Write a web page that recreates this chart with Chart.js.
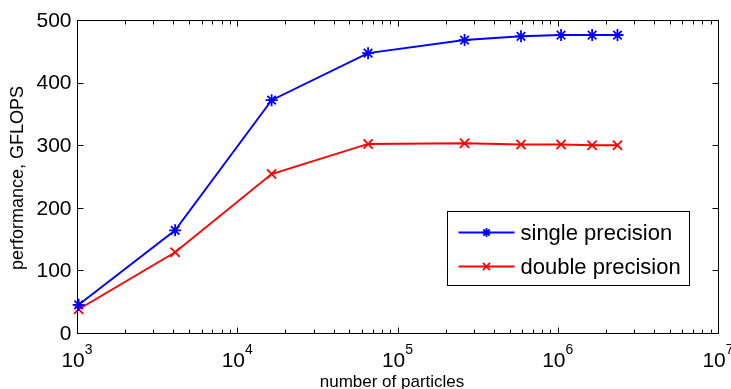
<!DOCTYPE html>
<html lang="en">

<head>
    <meta charset="UTF-8">
    <title>Performance vs number of particles</title>
    <script src="https://cdn.jsdelivr.net/npm/chart.js"></script>
    <style>
        body { margin: 0; background: #fff; }
        canvas { display: block; }
    </style>
</head>

<body>
    <canvas id="perfChart" width="731" height="389"></canvas>

    <script>
        // measured runs: particle counts and sustained GFLOPS
        const particles = [1024, 4096, 16384, 65536, 262144, 589824, 1048576, 1638400, 2359296];
        const singleGflops = [45, 164, 372, 447, 468, 474, 476, 476, 476];
        const doubleGflops = [38, 129, 254, 302, 303, 301, 301, 300, 300];

        const seriesNames = ['single precision', 'double precision'];
        const yTicks = [0, 100, 200, 300, 400, 500];
        const xExponents = [3, 4, 5, 6, 7];

        const FONT = '"Liberation Sans", Arial, sans-serif';

        // axes box, inward ticks, tick labels, titles and the legend
        const matlabAxes = {
            id: 'matlabAxes',
            afterDraw(chart) {
                const ctx = chart.ctx;
                const area = chart.chartArea;
                const xs = chart.scales.x;
                const ys = chart.scales.y;
                const L = Math.round(area.left) + 0.5, R = Math.round(area.right) + 0.5;
                const T = Math.round(area.top) + 0.5, B = Math.round(area.bottom) + 0.5;

                ctx.save();
                ctx.strokeStyle = '#000';
                ctx.lineWidth = 1;
                ctx.strokeRect(L, T, R - L, B - T);

                // y ticks on both sides
                ctx.beginPath();
                yTicks.forEach(v => {
                    const y = Math.round(ys.getPixelForValue(v)) + 0.5;
                    ctx.moveTo(L, y); ctx.lineTo(L + 6, y);
                    ctx.moveTo(R, y); ctx.lineTo(R - 6, y);
                });
                // x ticks, majors plus 2..9 minors per decade, top and bottom
                xExponents.forEach((e, i) => {
                    const base = Math.pow(10, e);
                    const x = Math.round(xs.getPixelForValue(base)) + 0.5;
                    ctx.moveTo(x, B); ctx.lineTo(x, B - 6);
                    ctx.moveTo(x, T); ctx.lineTo(x, T + 6);
                    if (i === xExponents.length - 1) return;
                    for (let m = 2; m <= 9; m++) {
                        const xm = Math.round(xs.getPixelForValue(m * base)) + 0.5;
                        ctx.moveTo(xm, B); ctx.lineTo(xm, B - 4);
                        ctx.moveTo(xm, T); ctx.lineTo(xm, T + 4);
                    }
                });
                ctx.stroke();

                // y tick labels
                ctx.fillStyle = '#000';
                ctx.font = '21px ' + FONT;
                ctx.textAlign = 'right';
                ctx.textBaseline = 'middle';
                yTicks.forEach(v => {
                    ctx.fillText(String(v), L - 6, ys.getPixelForValue(v) + 1);
                });

                // x tick labels as 10 with a raised exponent
                ctx.textBaseline = 'alphabetic';
                ctx.textAlign = 'left';
                xExponents.forEach(e => {
                    const x = xs.getPixelForValue(Math.pow(10, e));
                    ctx.font = '21px ' + FONT;
                    const wBase = ctx.measureText('10').width;
                    ctx.font = '14px ' + FONT;
                    const wExp = ctx.measureText(String(e)).width;
                    const x0 = x - (wBase + wExp) / 2;
                    ctx.font = '21px ' + FONT;
                    ctx.fillText('10', x0, B + 33);
                    ctx.font = '14px ' + FONT;
                    ctx.fillText(String(e), x0 + wBase, B + 20);
                });

                // axis titles
                ctx.font = '17px ' + FONT;
                ctx.textAlign = 'center';
                ctx.fillText('number of particles', (L + R) / 2 - 6, 387);
                ctx.save();
                ctx.font = '18px ' + FONT;
                ctx.translate(23, (T + B) / 2 + 1);
                ctx.rotate(-Math.PI / 2);
                ctx.fillText('performance, GFLOPS', 0, 0);
                ctx.restore();

                // legend box inside the plot
                const lx = 447.5, ly = 211.5, lw = 242, lh = 74;
                ctx.fillStyle = '#fff';
                ctx.fillRect(lx, ly, lw, lh);
                ctx.strokeRect(lx, ly, lw, lh);
                ctx.font = '22px ' + FONT;
                ctx.textAlign = 'left';
                ctx.textBaseline = 'middle';
                chart.data.datasets.forEach((ds, i) => {
                    const yy = ly + 21 + i * 34;
                    ctx.strokeStyle = ds.borderColor;
                    ctx.lineWidth = 1.8;
                    ctx.beginPath();
                    ctx.moveTo(lx + 11, yy); ctx.lineTo(lx + 67, yy);
                    ctx.stroke();
                    Chart.helpers.drawPoint(ctx, {
                        pointStyle: ds.pointStyle, radius: ds.pointRadius - 1.5,
                        borderWidth: 1.8, rotation: 0
                    }, lx + 39, yy);
                    ctx.fillStyle = '#000';
                    ctx.fillText(ds.label, lx + 73, yy + 1);
                });
                ctx.restore();
            }
        };

        const ctx = document.getElementById('perfChart').getContext('2d');
        new Chart(ctx, {
            type: 'line',
            data: {
                datasets: [
                    {
                        label: seriesNames[0],
                        data: particles.map((p, i) => ({ x: p, y: singleGflops[i] })),
                        borderColor: '#0000ff',
                        pointStyle: 'star',
                        pointRadius: 6,
                        pointBorderWidth: 1.8,
                        borderWidth: 1.9,
                        fill: false,
                        clip: false
                    },
                    {
                        label: seriesNames[1],
                        data: particles.map((p, i) => ({ x: p, y: doubleGflops[i] })),
                        borderColor: '#ff0000',
                        pointStyle: 'crossRot',
                        pointRadius: 6.5,
                        pointBorderWidth: 1.8,
                        borderWidth: 1.9,
                        fill: false,
                        clip: false
                    }
                ]
            },
            options: {
                responsive: false,
                animation: false,
                devicePixelRatio: 1,
                layout: { padding: { left: 77, right: 13, top: 20, bottom: 56 } },
                plugins: {
                    legend: { display: false },
                    tooltip: { enabled: false }
                },
                scales: {
                    x: { type: 'logarithmic', min: 1e3, max: 1e7, display: false },
                    y: { type: 'linear', min: 0, max: 500, display: false }
                }
            },
            plugins: [matlabAxes]
        });
    </script>
</body>

</html>
